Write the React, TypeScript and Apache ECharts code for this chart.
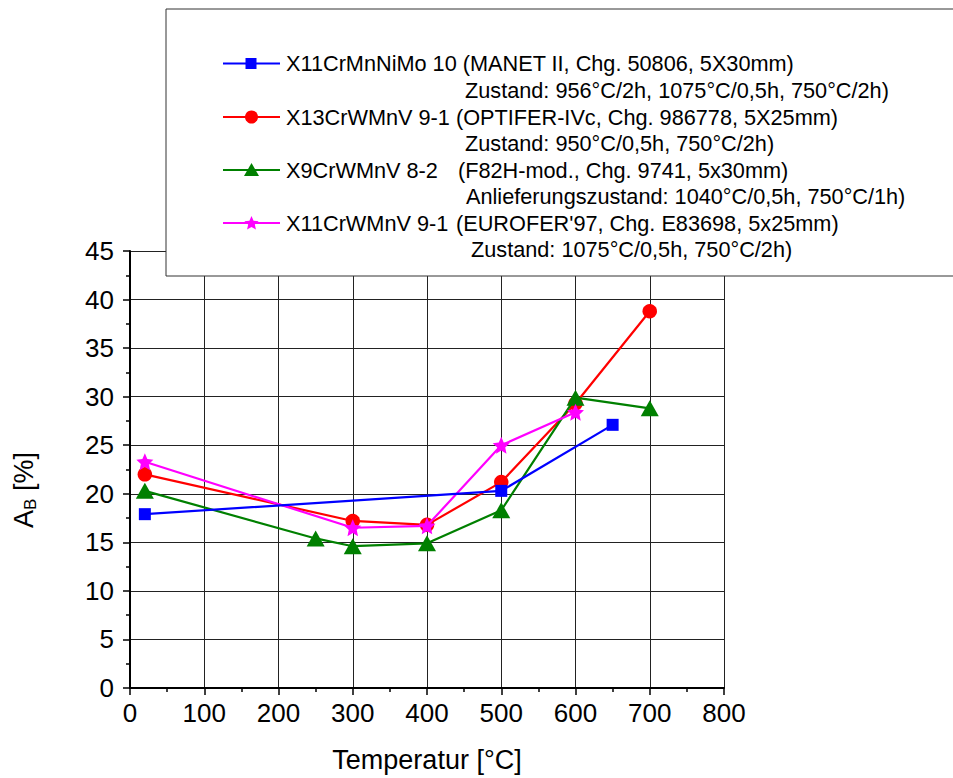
import React, { useEffect, useRef } from "react";
import * as echarts from "echarts";

// ---- data ----
const manetT = [20, 500, 650];
const manetA = [17.9, 20.3, 27.1];

const optiferT = [20, 300, 400, 500, 600, 700];
const optiferA = [22.0, 17.2, 16.8, 21.2, 29.3, 38.8];

const f82hT = [20, 250, 300, 400, 500, 600, 700];
const f82hA = [20.3, 15.4, 14.6, 14.9, 18.3, 29.9, 28.8];

const euroferT = [20, 300, 400, 500, 600];
const euroferA = [23.3, 16.5, 16.7, 25.0, 28.4];

const legendMain = [
  "X11CrMnNiMo 10 (MANET II, Chg. 50806, 5X30mm)",
  "X13CrWMnV 9-1 (OPTIFER-IVc, Chg. 986778, 5X25mm)",
  "X9CrWMnV 8-2",
  "X11CrWMnV 9-1",
];
const legendMainExtra = ["", "", "(F82H-mod., Chg. 9741, 5x30mm)", "(EUROFER'97, Chg. E83698, 5x25mm)"];
const legendSub = [
  "Zustand: 956°C/2h, 1075°C/0,5h, 750°C/2h)",
  "Zustand: 950°C/0,5h, 750°C/2h)",
  "Anlieferungszustand: 1040°C/0,5h, 750°C/1h)",
  "Zustand: 1075°C/0,5h, 750°C/2h)",
];

const FONT = "'Liberation Sans', Arial, sans-serif";

function starPoints(cx: number, cy: number, r: number) {
  const pts: number[][] = [];
  for (let i = 0; i < 10; i++) {
    const rr = i % 2 === 0 ? r : r * 0.47;
    const a = -Math.PI / 2 + (i * Math.PI) / 5;
    pts.push([cx + rr * Math.cos(a), cy + rr * Math.sin(a)]);
  }
  return pts;
}
const starPath =
  "path://" +
  starPoints(50, 50, 50)
    .map((p, i) => (i === 0 ? "M" : "L") + p[0].toFixed(2) + "," + p[1].toFixed(2))
    .join(" ") +
  " Z";

export default function App() {
  const ref = useRef<HTMLDivElement>(null);
  useEffect(() => {
    if (!ref.current) return;
    const chart = echarts.init(ref.current, undefined, { renderer: "svg" });
    const pair = (xs: number[], ys: number[]) => xs.map((x, i) => [x, ys[i]]);

    const colors = ["#0000ff", "#ff0000", "#008000", "#ff00ff"];
    const rowMain = [63.5, 117, 170, 223];
    const rowSub = [90.5, 143.5, 196.5, 249.5];
    const subX = [465, 465, 466, 471];
    const extraX = [0, 0, 458, 456];
    const LF = `21.7px ${FONT}`;

    const graphics: any[] = [
      {
        type: "rect",
        shape: { x: 166, y: 9, width: 800, height: 267 },
        style: { fill: "#fff", stroke: "#333", lineWidth: 1 },
        z: 100,
      },
    ];
    for (let i = 0; i < 4; i++) {
      const y = rowMain[i];
      graphics.push({
        type: "line",
        shape: { x1: 223, y1: y, x2: 280, y2: y },
        style: { stroke: colors[i], lineWidth: 2 },
        z: 101,
      });
      let sym: any;
      if (i === 0) sym = { type: "rect", shape: { x: 245.5, y: y - 5.5, width: 11, height: 11 } };
      else if (i === 1) sym = { type: "circle", shape: { cx: 251.5, cy: y, r: 6.5 } };
      else if (i === 2)
        sym = {
          type: "polygon",
          shape: { points: [[251.5, y - 7], [259, y + 6], [244, y + 6]] },
        };
      else sym = { type: "polygon", shape: { points: starPoints(251.5, y + 0.5, 7.5) } };
      sym.style = { fill: colors[i] };
      sym.z = 102;
      graphics.push(sym);
      graphics.push({
        type: "text",
        x: 286,
        y,
        style: { text: legendMain[i], font: LF, fill: "#000", verticalAlign: "middle" },
        z: 102,
      });
      if (legendMainExtra[i]) {
        graphics.push({
          type: "text",
          x: extraX[i],
          y,
          style: { text: legendMainExtra[i], font: LF, fill: "#000", verticalAlign: "middle" },
          z: 102,
        });
      }
      graphics.push({
        type: "text",
        x: subX[i],
        y: rowSub[i],
        style: { text: legendSub[i], font: LF, fill: "#000", verticalAlign: "middle" },
        z: 102,
      });
    }
    // y axis title
    graphics.push({
      type: "text",
      x: 24,
      y: 490,
      rotation: Math.PI / 2,
      style: {
        text: "{a|A}{b|B}{a| [%]}",
        align: "center",
        verticalAlign: "middle",
        fill: "#000",
        rich: {
          a: { fontSize: 27, fontFamily: FONT, lineHeight: 30, fill: "#000" },
          b: { fontSize: 17, fontFamily: FONT, lineHeight: 14, verticalAlign: "bottom", fill: "#000" },
        },
      },
      z: 50,
    });

    const axisCommon = {
      axisLine: { show: true, lineStyle: { color: "#000", width: 2 } },
      axisTick: { show: true, inside: false, length: 7, lineStyle: { color: "#000", width: 1.5 } },
      minorTick: { show: true, splitNumber: 2, length: 4, lineStyle: { color: "#000", width: 1.5 } },
      splitLine: { show: true, lineStyle: { color: "#222", width: 1 } },
      axisLabel: { color: "#000", fontSize: 26, fontFamily: FONT },
    };

    const mk = (name: string, data: number[][], color: string, symbol: string, size: any, z: number) => ({
      type: "line",
      name,
      data,
      symbol,
      symbolSize: size,
      showAllSymbol: true,
      lineStyle: { color, width: 2.2 },
      itemStyle: { color },
      z,
    });

    chart.setOption({
      animation: false,
      backgroundColor: "#fff",
      grid: { left: 130, right: 229, top: 251, bottom: 89, containLabel: false },
      xAxis: {
        type: "value",
        min: 0,
        max: 800,
        interval: 100,
        name: "Temperatur [°C]",
        nameLocation: "middle",
        nameGap: 58,
        nameTextStyle: { color: "#000", fontSize: 27, fontFamily: FONT },
        ...axisCommon,
        axisLabel: { ...axisCommon.axisLabel, margin: 12 },
      },
      yAxis: {
        type: "value",
        min: 0,
        max: 45,
        interval: 5,
        ...axisCommon,
        axisLabel: { ...axisCommon.axisLabel, margin: 16 },
      },
      series: [
        mk("MANET II", pair(manetT, manetA), "#0000ff", "rect", 12, 5),
        mk("OPTIFER-IVc", pair(optiferT, optiferA), "#ff0000", "circle", 14.5, 2),
        mk("F82H-mod.", pair(f82hT, f82hA), "#008000", "triangle", [18, 16], 3),
        mk("EUROFER'97", pair(euroferT, euroferA), "#ff00ff", starPath, 17, 4),
      ],
      graphic: graphics,
    });
    return () => chart.dispose();
  }, []);
  return (
    <div
      ref={ref}
      style={{ position: "absolute", left: 0, top: 0, width: 953, height: 778, background: "#fff" }}
    />
  );
}
